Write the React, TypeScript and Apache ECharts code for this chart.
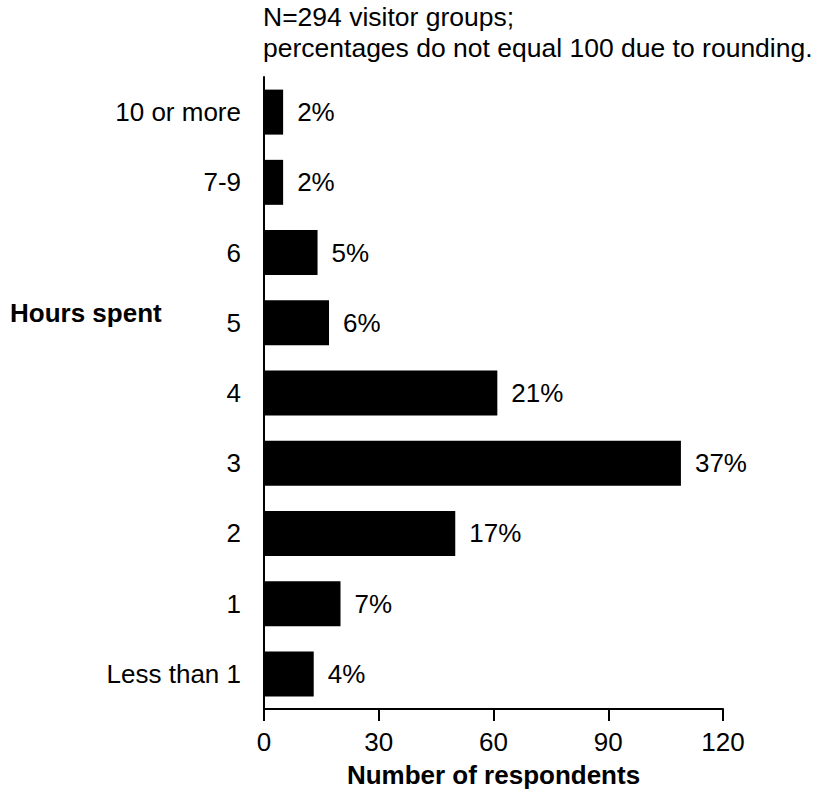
import React, { useEffect, useRef } from "react";
import * as echarts from "echarts";

const categories = ["Less than 1", "1", "2", "3", "4", "5", "6", "7-9", "10 or more"];
const respondents = [13, 20, 50, 109, 61, 17, 14, 5, 5];
const percentLabels = ["4%", "7%", "17%", "37%", "21%", "6%", "5%", "2%", "2%"];
const xTicks = { min: 0, max: 120, interval: 30 };
const noteLines = ["N=294 visitor groups;", "percentages do not equal 100 due to rounding."];
const yTitle = "Hours spent";
const xTitle = "Number of respondents";

const FONT = "'Liberation Sans', Arial, Helvetica, sans-serif";
const FS = 26;

export default function App() {
  const ref = useRef<HTMLDivElement>(null);
  useEffect(() => {
    if (!ref.current) return;
    const chart = echarts.init(ref.current, null, { renderer: "svg" });
    chart.setOption({
      animation: false,
      backgroundColor: "#ffffff",
      textStyle: { fontFamily: FONT, color: "#000" },
      title: {
        text: noteLines.join("\n"),
        left: 258,
        top: -4,
        textStyle: { fontFamily: FONT, fontSize: 26.5, fontWeight: "normal", color: "#000", lineHeight: 31 },
      },
      graphic: [
        {
          type: "text",
          left: 10,
          top: 300,
          style: { text: yTitle, font: `bold ${FS}px ${FONT}`, fill: "#000" },
        },
      ],
      grid: { left: 264, right: 99, top: 77, bottom: 84, containLabel: false },
      xAxis: {
        type: "value",
        min: xTicks.min,
        max: xTicks.max,
        interval: xTicks.interval,
        splitLine: { show: false },
        axisLine: { show: true, lineStyle: { color: "#000", width: 2 } },
        axisTick: { show: true, length: 12, lineStyle: { color: "#000", width: 2 } },
        axisLabel: { margin: 20, fontSize: FS, color: "#000", fontFamily: FONT },
        name: xTitle,
        nameLocation: "middle",
        nameGap: 53,
        nameTextStyle: { fontSize: FS, fontWeight: "bold", color: "#000", fontFamily: FONT },
      },
      yAxis: {
        type: "category",
        data: categories,
        axisLine: { show: true, lineStyle: { color: "#000", width: 2 } },
        axisTick: { show: false },
        axisLabel: { margin: 23, fontSize: FS, color: "#000", fontFamily: FONT },
        splitLine: { show: false },
      },
      series: [
        {
          type: "bar",
          data: respondents,
          barWidth: 45,
          itemStyle: { color: "#000" },
          label: {
            show: true,
            position: "right",
            distance: 14,
            fontSize: FS,
            color: "#000",
            fontFamily: FONT,
            formatter: (p: any) => percentLabels[p.dataIndex],
          },
        },
      ],
    });
    return () => chart.dispose();
  }, []);
  return (
    <div
      ref={ref}
      style={{ position: "fixed", left: 0, top: 0, width: 822, height: 793, background: "#fff" }}
    />
  );
}
